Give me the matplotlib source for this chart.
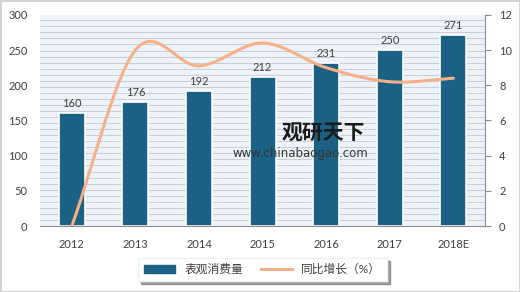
import numpy as np
import matplotlib.pyplot as plt
from matplotlib.patches import Rectangle

plt.rcParams['font.family'] = ['Lato', 'Noto Sans CJK SC', 'DejaVu Sans']

# ============================================================
# DATA
# ============================================================
years = ["2012", "2013", "2014", "2015", "2016", "2017", "2018E"]
consumption = [160, 176, 192, 212, 231, 250, 271]
growth = [0, 10.0, 9.1, 10.4, 9.0, 8.2, 8.4]

bar_color = "#1b6184"
line_color = "#f5b088"
text_color = "#404040"


def smooth(xs, ys, n=30):
    # Catmull-Rom style bezier, like Excel's smoothed line
    xs = np.asarray(xs, float)
    ys = np.asarray(ys, float)
    px = np.concatenate([[2 * xs[0] - xs[1]], xs, [2 * xs[-1] - xs[-2]]])
    py = np.concatenate([[2 * ys[0] - ys[1]], ys, [2 * ys[-1] - ys[-2]]])
    t = np.linspace(0, 1, n)
    b0, b1, b2, b3 = (1 - t) ** 3, 3 * (1 - t) ** 2 * t, 3 * (1 - t) * t ** 2, t ** 3
    out_x, out_y = [], []
    for i in range(1, len(px) - 2):
        for p, out in ((px, out_x), (py, out_y)):
            c1 = p[i] + (p[i + 1] - p[i - 1]) / 6
            c2 = p[i + 1] - (p[i + 2] - p[i]) / 6
            out.append(b0 * p[i] + b1 * c1 + b2 * c2 + b3 * p[i + 1])
    return np.concatenate(out_x), np.concatenate(out_y)


fig = plt.figure(figsize=(5.2, 2.92), dpi=100)
fig.patch.set_facecolor("white")
fig.patches.append(Rectangle((0, 0), 1, 1, transform=fig.transFigure,
                             fill=False, edgecolor="#d0d0d0", linewidth=2))

ax = fig.add_axes([0.077, 0.226, 0.856, 0.723])
ax.set_facecolor("#edf3f8")
x = np.arange(len(years))

# striped plot area background
for yy in np.arange(0, 300, 8.6):
    ax.axhline(yy, color="#c2c9d1", linewidth=0.6, zorder=0)

ax.bar(x, consumption, width=0.41, color=bar_color,
       edgecolor="white", linewidth=1.2, zorder=2)
for xi, v in zip(x, consumption):
    ax.text(xi, v + 6, str(v), ha="center", va="bottom", fontsize=8, color=text_color)

ax.set_xlim(-0.5, len(years) - 0.5)
ax.set_ylim(0, 300)
ax.set_yticks(range(0, 301, 50))
ax.set_xticks(x)
ax.set_xticklabels(years)
ax.tick_params(axis="both", length=0, labelsize=8, colors=text_color)
ax.tick_params(axis="x", pad=9)
ax.tick_params(axis="y", pad=9)
for s in ["top", "left", "right"]:
    ax.spines[s].set_visible(False)
ax.spines["bottom"].set_color("#8c8c8c")

ax2 = ax.twinx()
sx, sy = smooth(x, growth)
ax2.plot(sx, sy, color=line_color, linewidth=2.2, zorder=3, solid_capstyle="round")
ax2.set_ylim(0, 12)
ax2.set_yticks(range(0, 13, 2))
ax2.tick_params(axis="y", length=4, labelsize=8, colors=text_color, pad=6)
ax2.tick_params(axis="y", color="#8c8c8c")
for s in ["top", "left", "bottom"]:
    ax2.spines[s].set_visible(False)
ax2.spines["right"].set_color("#8c8c8c")

# watermark
fig.text(0.621, 0.545, "观研天下", fontsize=15, fontweight="bold", color="#1a1a1a",
         ha="center", va="center", family=["Noto Sans CJK SC"])
fig.text(0.578, 0.474, "www.chinabaogao.com", fontsize=8.5, color="#333333",
         ha="center", va="center", family=["DejaVu Sans"])

# legend
h1 = Rectangle((0, 0), 1, 1, color=bar_color)
h2 = plt.Line2D([0], [0], color=line_color, linewidth=2.2)
leg = fig.legend([h1, h2], ["表观消费量", "同比增长（%）"], loc="center",
                 bbox_to_anchor=(0.505, 0.077), ncol=2, fontsize=8.5, frameon=True,
                 fancybox=False, shadow=True, handlelength=2.6, handleheight=0.6,
                 columnspacing=1.5, borderpad=0.5)
leg.get_frame().set_edgecolor("#f0f0f0")
for t in leg.get_texts():
    t.set_color(text_color)

fig.savefig("out.png", dpi=100)
